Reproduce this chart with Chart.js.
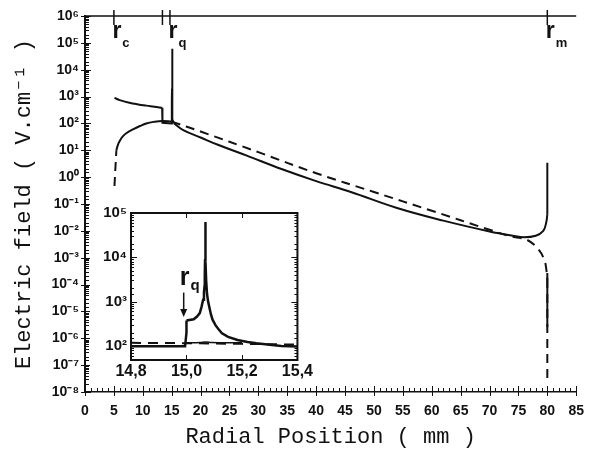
<html>
  <head>
    <title>Electric field vs radial position</title>
    <script src="https://cdn.jsdelivr.net/npm/chart.js"></script>
    <style>
      body { margin: 0; background: #fff; }
      #wrap { position: relative; width: 595px; height: 450px; }
      #mainChart { position: absolute; left: 0; top: 0; }
      #insetChart { position: absolute; left: 90px; top: 200px; background: #fff; }
    </style>
  </head>
  <body>
    <div id="wrap">
      <canvas id="mainChart" width="595" height="450"></canvas>
      <canvas id="insetChart" width="225" height="182"></canvas>
    </div>

    <script>
      // main curves, x in mm, E in V/cm
      const upperLeftX = [5.1, 6, 7.7, 9, 10.6, 12, 13.35];
      const upperLeftE = [890, 740, 590, 520, 460, 420, 380];
      const stepX = [13.35, 13.4, 15.0, 15.0, 15.05, 15.06, 15.068, 15.075, 15.09, 15.2, 15.4];
      const stepE = [380, 105, 100, 385, 800, 2000, 60000, 2000, 600, 140, 100];
      const decayX = [15.4, 17, 20, 23, 28, 34, 40, 46, 54, 62, 70, 74, 76, 78, 79.3, 79.8, 80];
      const decayE = [100, 56, 30, 16, 6.3, 2.0, 0.71, 0.28, 0.071, 0.024, 0.0095, 0.0066, 0.0058, 0.0066, 0.01, 0.02, 0.04];
      const endSpikeX = [80, 80];
      const endSpikeE = [0.04, 3.4];

      const riseDashX = [5.1, 5.25, 5.43];
      const riseDashE = [0.47, 2.0, 10];
      const riseX = [5.43, 5.7, 6.0, 6.5, 7.2, 8.3, 9.5, 10.6, 12, 13.4, 15];
      const riseE = [10, 16, 22, 32, 44, 60, 80, 100, 115, 123, 117];

      const dashX = [15, 20, 30, 40, 50, 60, 70, 74, 76.5, 78.5, 79.5, 79.8, 80];
      const dashE = [117, 50, 8.5, 1.4, 0.28, 0.056, 0.011, 0.006, 0.0046, 0.002, 0.0008, 0.0004, 0.00016];
      const dashTailX = [80, 80];
      const dashTailE = [0.00016, 2.2e-8];
      const tailX = [80, 80];
      const tailE = [2.7e-4, 2.6e-6];

      // top markers
      const markerX = [5, 13.4, 14.7, 80];
      const markerLabelX = [5, 14.7, 80];
      const markerSub = ['c', 'q', 'm'];

      // inset curves
      const insetFlatX = [14.8, 14.995, 15.0, 15.0];
      const insetFlatE = [98, 98, 200, 373];
      const insetPeakX = [15.0, 15.026, 15.038, 15.048, 15.054, 15.06, 15.063, 15.065, 15.066, 15.067, 15.068,
                          15.069, 15.071, 15.074, 15.078, 15.082, 15.088, 15.094, 15.105, 15.115, 15.128,
                          15.15, 15.184, 15.22, 15.252, 15.3, 15.342, 15.4];
      const insetPeakE = [373, 400, 460, 550, 750, 1100, 1600, 2200, 4000, 9000, 63000,
                          8000, 3000, 1500, 1000, 770, 520, 390, 290, 240, 193,
                          160, 136, 123, 115, 106, 100, 97];
      const insetDashX = [14.8, 15.0, 15.2, 15.4];
      const insetDashE = [117, 115, 111, 107];
      const insetLowX = [15.0, 15.05, 15.07, 15.09, 15.2];
      const insetLowE = [117, 119, 122, 119, 117];
      const arrowX = 14.99;
      const arrowTopE = 1600;
      const arrowTipE = 450;

      const sup = { '-': '⁻', '0': '⁰', '1': '¹', '2': '²', '3': '³', '4': '⁴', '5': '⁵', '6': '⁶', '7': '⁷', '8': '⁸', '9': '⁹' };
      function isPow10(v) {
        const l = Math.log10(v);
        return Math.abs(l - Math.round(l)) < 1e-6;
      }
      function powLabel(v) {
        if (!isPow10(v)) return '';
        return '10' + String(Math.round(Math.log10(v))).split('').map(c => sup[c]).join('');
      }
      function pts(xs, ys) {
        return xs.map((x, i) => ({ x: x, y: ys[i] }));
      }

      const ink = '#111';
      const line = { borderColor: ink, borderWidth: 2, pointRadius: 0, showLine: true, fill: false, tension: 0 };
      const smooth = Object.assign({}, line, { tension: 0.4 });
      const dashed = Object.assign({}, line, { borderDash: [9, 6] });
      const dashedSmooth = Object.assign({}, dashed, { tension: 0.4 });

      const mainDecor = {
        id: 'mainDecor',
        afterDraw(chart) {
          const { ctx, chartArea: a, scales: { x, y } } = chart;
          ctx.save();
          ctx.strokeStyle = ink;
          ctx.lineWidth = 1;
          ctx.beginPath();
          x.ticks.forEach(t => {
            const px = Math.round(x.getPixelForValue(t.value)) + 0.5;
            if (t.value % 5 === 0) { ctx.moveTo(px, a.bottom + 4); ctx.lineTo(px, a.bottom - 6); }
            else { ctx.moveTo(px, a.bottom); ctx.lineTo(px, a.bottom - 4); }
          });
          y.ticks.forEach(t => {
            const py = Math.round(y.getPixelForValue(t.value)) + 0.5;
            if (isPow10(t.value)) { ctx.moveTo(a.left - 4, py); ctx.lineTo(a.left + 6, py); }
            else { ctx.moveTo(a.left, py); ctx.lineTo(a.left + 4, py); }
          });
          ctx.stroke();

          // top line with markers
          ctx.lineWidth = 1.5;
          ctx.beginPath();
          ctx.moveTo(a.left, a.top);
          ctx.lineTo(a.right, a.top);
          markerX.forEach(m => {
            const px = x.getPixelForValue(m);
            ctx.moveTo(px, a.top - 6);
            ctx.lineTo(px, a.top + 9);
          });
          ctx.stroke();

          ctx.fillStyle = ink;
          ctx.textBaseline = 'alphabetic';
          ctx.textAlign = 'left';
          markerLabelX.forEach((m, i) => {
            const px = x.getPixelForValue(m) - 1.5;
            ctx.font = 'bold 23px "Liberation Sans", Arial, sans-serif';
            ctx.fillText('r', px, a.top + 22);
            const w = ctx.measureText('r').width;
            ctx.font = 'bold 13px "Liberation Sans", Arial, sans-serif';
            ctx.fillText(markerSub[i], px + w + 1, a.top + 31);
          });
          ctx.restore();
        }
      };

      new Chart(document.getElementById('mainChart'), {
        type: 'scatter',
        data: {
          datasets: [
            Object.assign({ data: pts(upperLeftX, upperLeftE) }, smooth),
            Object.assign({ data: pts(stepX, stepE) }, line),
            Object.assign({ data: pts(decayX, decayE) }, smooth),
            Object.assign({ data: pts(endSpikeX, endSpikeE) }, line),
            Object.assign({ data: pts(riseDashX, riseDashE) }, dashed),
            Object.assign({ data: pts(riseX, riseE) }, smooth),
            Object.assign({ data: pts(dashX, dashE) }, dashedSmooth),
            Object.assign({ data: pts(dashTailX, dashTailE) }, dashed),
            Object.assign({ data: pts(tailX, tailE) }, line)
          ]
        },
        options: {
          responsive: false,
          animation: false,
          layout: { padding: { left: 0, top: 16, right: 14, bottom: 0 } },
          plugins: { legend: { display: false }, tooltip: { enabled: false } },
          scales: {
            x: {
              type: 'linear',
              min: 0,
              max: 85,
              grid: { display: false, drawTicks: false },
              border: { display: true, color: ink, width: 1.5 },
              ticks: {
                stepSize: 1,
                autoSkip: false,
                maxRotation: 0,
                padding: 11,
                color: ink,
                font: { family: '"Liberation Sans", Arial, sans-serif', size: 14, weight: 'bold' },
                callback: v => (v % 5 === 0 ? v : '')
              },
              title: {
                display: true,
                text: 'Radial Position ( mm )',
                color: ink,
                font: { family: '"Liberation Mono", "Courier New", monospace', size: 22 },
                padding: { top: 0, bottom: 0 }
              },
              afterFit: s => { s.height = 58; }
            },
            y: {
              type: 'logarithmic',
              min: 1e-8,
              max: 1e6,
              grid: { display: false, drawTicks: false },
              border: { display: true, color: ink, width: 2 },
              ticks: {
                autoSkip: false,
                padding: 6,
                color: ink,
                font: { family: '"Liberation Sans", Arial, sans-serif', size: 14, weight: 'bold' },
                callback: v => powLabel(v)
              },
              title: {
                display: true,
                text: 'Electric field ( V.cm⁻¹ )',
                color: ink,
                font: { family: '"Liberation Mono", "Courier New", monospace', size: 22 },
                padding: { top: 11, bottom: 0 }
              },
              afterFit: s => { s.width = 85; }
            }
          }
        },
        plugins: [mainDecor]
      });

      const insetDecor = {
        id: 'insetDecor',
        afterDraw(chart) {
          const { ctx, chartArea: a, scales: { x, y } } = chart;
          ctx.save();
          ctx.strokeStyle = ink;
          ctx.lineWidth = 2;
          ctx.strokeRect(a.left, a.top, a.right - a.left, a.bottom - a.top);
          ctx.lineWidth = 1;
          ctx.beginPath();
          y.ticks.forEach(t => {
            const py = Math.round(y.getPixelForValue(t.value)) + 0.5;
            const len = isPow10(t.value) ? 6 : 3;
            ctx.moveTo(a.left, py); ctx.lineTo(a.left + len, py);
            ctx.moveTo(a.right, py); ctx.lineTo(a.right - len, py);
          });
          x.ticks.forEach(t => {
            const px = Math.round(x.getPixelForValue(t.value)) + 0.5;
            ctx.moveTo(px, a.bottom); ctx.lineTo(px, a.bottom - 5);
            ctx.moveTo(px, a.top); ctx.lineTo(px, a.top + 5);
          });
          ctx.stroke();

          // r_q arrow
          const ax = x.getPixelForValue(arrowX);
          const top = y.getPixelForValue(arrowTopE);
          const tip = y.getPixelForValue(arrowTipE);
          ctx.lineWidth = 1.5;
          ctx.beginPath();
          ctx.moveTo(ax, top);
          ctx.lineTo(ax, tip - 4);
          ctx.stroke();
          ctx.fillStyle = ink;
          ctx.beginPath();
          ctx.moveTo(ax - 3.5, tip - 8);
          ctx.lineTo(ax + 3.5, tip - 8);
          ctx.lineTo(ax, tip);
          ctx.closePath();
          ctx.fill();
          ctx.textAlign = 'left';
          ctx.font = 'bold 25px "Liberation Sans", Arial, sans-serif';
          ctx.fillText('r', ax - 4, top - 8);
          const w = ctx.measureText('r').width;
          ctx.font = 'bold 15px "Liberation Sans", Arial, sans-serif';
          ctx.fillText('q', ax - 4 + w + 1, top - 3);
          ctx.restore();
        }
      };

      new Chart(document.getElementById('insetChart'), {
        type: 'scatter',
        data: {
          datasets: [
            Object.assign({ data: pts(insetDashX, insetDashE) }, dashed, { borderDash: [10, 7], borderWidth: 2 }),
            Object.assign({ data: pts(insetLowX, insetLowE) }, smooth, { borderWidth: 1.5 }),
            Object.assign({ data: pts(insetFlatX, insetFlatE) }, line, { borderWidth: 2.5 }),
            Object.assign({ data: pts(insetPeakX, insetPeakE) }, line, { borderWidth: 2.5 })
          ]
        },
        options: {
          responsive: false,
          animation: false,
          layout: { padding: { left: 0, top: 13, right: 8, bottom: 0 } },
          plugins: { legend: { display: false }, tooltip: { enabled: false } },
          scales: {
            x: {
              type: 'linear',
              min: 14.8,
              max: 15.4,
              grid: { display: false, drawTicks: false },
              border: { display: false },
              ticks: {
                stepSize: 0.2,
                maxRotation: 0,
                padding: 2,
                color: ink,
                font: { family: '"Liberation Sans", Arial, sans-serif', size: 16, weight: 'bold' },
                callback: v => v.toFixed(1).replace('.', ',')
              },
              afterFit: s => { s.height = 22; }
            },
            y: {
              type: 'logarithmic',
              min: 48,
              max: 1e5,
              grid: { display: false, drawTicks: false },
              border: { display: false },
              ticks: {
                autoSkip: false,
                padding: 4,
                color: ink,
                font: { family: '"Liberation Sans", Arial, sans-serif', size: 15, weight: 'bold' },
                callback: v => powLabel(v)
              },
              afterFit: s => { s.width = 41; }
            }
          }
        },
        plugins: [insetDecor]
      });
    </script>
  </body>
</html>
